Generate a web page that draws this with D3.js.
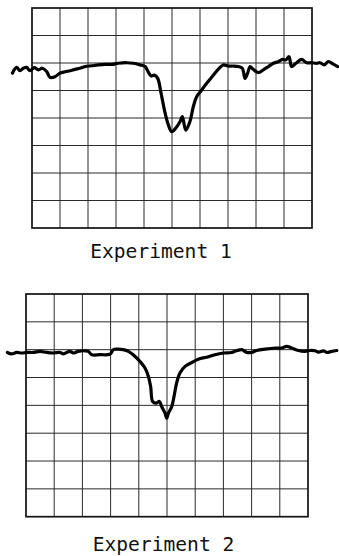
<!DOCTYPE html>
<html>
<head>
<meta charset="utf-8">
<script src="https://cdn.jsdelivr.net/npm/d3@7"></script>
<style>
  body { margin: 0; background: #fff; }
  .grid line { stroke: #2a2a2a; stroke-width: 1; }
  .frame { fill: none; stroke: #111; stroke-width: 1.7; }
  .trace { fill: none; stroke: #000; stroke-width: 3.2; stroke-linejoin: round; stroke-linecap: round; }
  .label { font-family: "DejaVu Sans Mono", monospace; font-size: 19.6px; fill: #111; }
</style>
</head>
<body>
<div id="graph"></div>
<script>
"use strict";

var width = 339,
    height = 556;

// grid divisions
let xDivs = [0, 1, 2, 3, 4, 5, 6, 7, 8, 9, 10];
let yDivs = [0, 1, 2, 3, 4, 5, 6, 7, 8];

// experiment 1 trace (x in divisions, y in divisions above bottom)
let exp1X = [-0.70, -0.55, -0.43, -0.31, -0.19, -0.07, 0.08, 0.23, 0.37, 0.53, 0.64, 0.82, 1.00, 1.18, 1.36, 1.54, 1.71, 1.89, 2.13, 2.37,
    2.61, 2.85, 3.08, 3.38, 3.62, 3.86, 4.04, 4.15, 4.25, 4.37, 4.49, 4.61, 4.73, 4.85, 4.99, 5.17, 5.29, 5.37, 5.49, 5.64,
    5.76, 5.88, 6.06, 6.24, 6.48, 6.65, 6.83, 7.01, 7.19, 7.37, 7.51, 7.61, 7.70, 7.79, 7.90, 8.08, 8.26, 8.44, 8.62, 8.80,
    8.94, 9.06, 9.18, 9.27, 9.45, 9.63, 9.81, 9.99, 10.17, 10.29, 10.44, 10.58, 10.76, 10.92];
let exp1Y = [5.63, 5.84, 5.72, 5.81, 5.84, 5.72, 5.83, 5.75, 5.81, 5.68, 5.48, 5.50, 5.63, 5.68, 5.72, 5.77, 5.81, 5.87, 5.90, 5.93,
    5.95, 5.95, 5.99, 6.01, 5.99, 5.93, 5.87, 5.68, 5.53, 5.56, 5.44, 4.90, 4.29, 3.81, 3.50, 3.68, 3.87, 4.05, 3.56, 3.87,
    4.41, 4.77, 5.02, 5.26, 5.56, 5.77, 5.93, 5.89, 5.89, 5.87, 5.81, 5.44, 5.63, 5.87, 5.77, 5.65, 5.75, 5.87, 5.99, 6.05,
    6.13, 6.11, 6.23, 5.87, 6.01, 6.13, 6.01, 6.01, 5.99, 6.01, 5.93, 6.05, 5.96, 5.87];

// experiment 2 trace
let exp2X = [-0.66, -0.51, -0.33, -0.15, 0.02, 0.26, 0.50, 0.73, 0.97, 1.21, 1.32, 1.44, 1.56, 1.68, 1.85, 2.09, 2.21, 2.33, 2.62, 2.98,
    3.10, 3.27, 3.45, 3.63, 3.80, 4.04, 4.22, 4.34, 4.42, 4.49, 4.61, 4.73, 4.81, 4.93, 4.99, 5.05, 5.17, 5.26, 5.34, 5.46,
    5.64, 5.88, 6.11, 6.41, 6.70, 7.00, 7.29, 7.46, 7.65, 7.83, 8.00, 8.18, 8.48, 8.83, 9.07, 9.24, 9.42, 9.66, 9.89, 10.07,
    10.25, 10.37, 10.55, 10.66, 10.84, 11.02];
let exp2Y = [5.90, 5.85, 5.90, 5.88, 5.90, 5.90, 5.94, 5.90, 5.88, 5.90, 5.85, 5.90, 5.94, 5.88, 5.94, 5.96, 5.94, 5.82, 5.82, 5.84,
    6.00, 6.02, 6.00, 5.94, 5.82, 5.58, 5.34, 5.04, 4.68, 4.14, 4.08, 4.14, 3.96, 3.72, 3.54, 3.72, 3.96, 4.38, 4.80, 5.16,
    5.40, 5.54, 5.66, 5.73, 5.82, 5.88, 5.90, 5.96, 6.00, 5.90, 5.90, 5.97, 6.02, 6.06, 6.06, 6.12, 6.06, 5.97, 5.94, 5.97,
    5.96, 5.91, 5.96, 5.90, 5.94, 5.97];

let labels = ["Experiment 1", "Experiment 2"];

let panels = [
    { xs: exp1X, ys: exp1Y, label: labels[0], left: 32, right: 312, top: 8, bottom: 228, labelX: 161, labelY: 258 },
    { xs: exp2X, ys: exp2Y, label: labels[1], left: 26, right: 308, top: 294, bottom: 516.7, labelX: 163.5, labelY: 551 }
];

let svg = d3.select("#graph")
    .append("svg")
    .attr("width", width)
    .attr("height", height);

svg.append("rect").attr("width", width).attr("height", height).attr("fill", "#fff");

panels.forEach(function (p) {
    let x = d3.scaleLinear().domain([0, 10]).range([p.left, p.right]);
    let y = d3.scaleLinear().domain([0, 8]).range([p.bottom, p.top]);

    let g = svg.append("g");
    let grid = g.append("g").attr("class", "grid");

    grid.selectAll(".v")
        .data(xDivs.slice(1, -1))
        .enter()
        .append("line")
        .attr("x1", d => x(d)).attr("x2", d => x(d))
        .attr("y1", p.top).attr("y2", p.bottom);

    grid.selectAll(".h")
        .data(yDivs.slice(1, -1))
        .enter()
        .append("line")
        .attr("y1", d => y(d)).attr("y2", d => y(d))
        .attr("x1", p.left).attr("x2", p.right);

    g.append("rect")
        .attr("class", "frame")
        .attr("x", p.left).attr("y", p.top)
        .attr("width", p.right - p.left).attr("height", p.bottom - p.top);

    let pts = p.xs.map((v, i) => [v, p.ys[i]]);
    let line = d3.line()
        .x(d => x(d[0]))
        .y(d => y(d[1]))
        .curve(d3.curveCatmullRom.alpha(0.5));

    g.append("path")
        .attr("class", "trace")
        .attr("d", line(pts));

    g.append("text")
        .attr("class", "label")
        .attr("x", p.labelX)
        .attr("y", p.labelY)
        .attr("text-anchor", "middle")
        .text(p.label);
});
</script>
</body>
</html>
